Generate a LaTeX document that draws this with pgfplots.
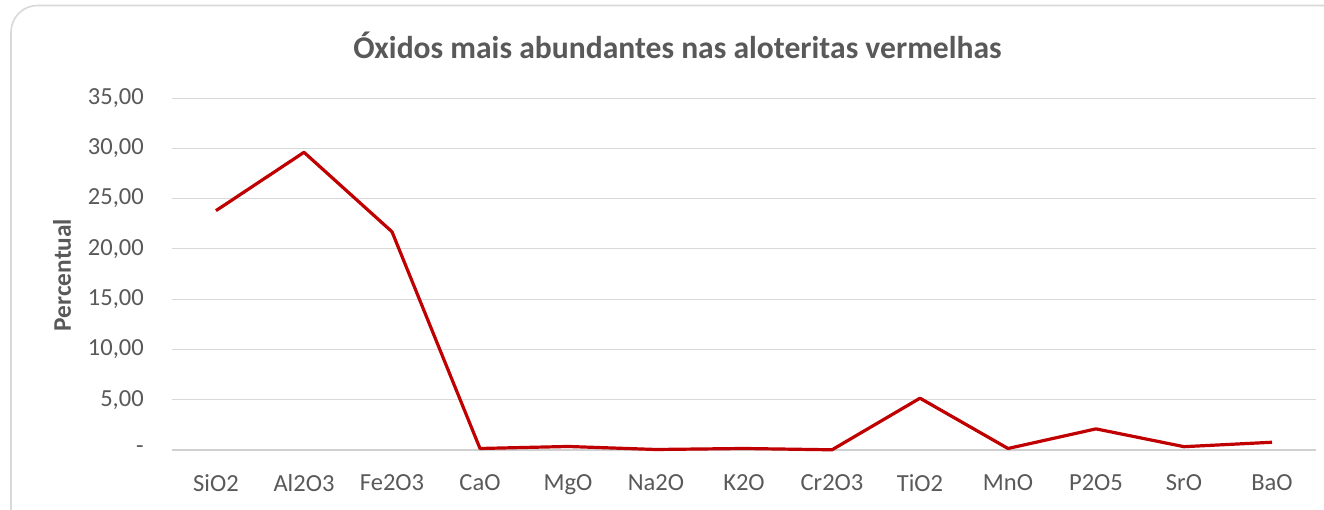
\documentclass[border=0pt]{standalone}
\usepackage{pgfplots}
\pgfplotsset{compat=1.18}
\usepackage{fontspec}
\setmainfont{Carlito}
\definecolor{txt}{HTML}{595959}
\definecolor{gridc}{HTML}{D9D9D9}
\definecolor{axl}{HTML}{D0D0D0}
\definecolor{brd}{HTML}{D9D9D9}
\definecolor{linec}{HTML}{C00000}
\begin{document}
\begin{tikzpicture}
\path[use as bounding box, fill=white] (0pt,0pt) rectangle (993pt,382.5pt);
\draw[brd, line width=1.2pt, rounded corners=20pt] (8.25pt,-30pt) rectangle (1020pt,378.4pt);
\node[font=\fontsize{23.7}{28}\selectfont\bfseries, text=txt] at (508.1pt,348.75pt) {Óxidos mais abundantes nas aloteritas vermelhas};
\node[font=\fontsize{19}{22}\selectfont\bfseries, text=txt, rotate=90] at (46.5pt,176.25pt) {Percentual};
\begin{axis}[
  at={(129pt,45pt)}, anchor=south west,
  scale only axis, width=858pt, height=264pt,
  xmin=-0.5, xmax=12.5, ymin=0, ymax=35,
  xtick={0,...,12},
  xticklabels={SiO2,Al2O3,Fe2O3,CaO,MgO,Na2O,K2O,Cr2O3,TiO2,MnO,P2O5,SrO,BaO},
  ytick={0,5,10,15,20,25,30,35},
  yticklabels={{-\hspace{14pt}},{5,00},{10,00},{15,00},{20,00},{25,00},{30,00},{35,00}},
  major tick length=0pt,
  axis line style={draw=none},
  xmajorgrids=false, ymajorgrids=true,
  major grid style={draw=gridc, line width=0.75pt},
  tick label style={font=\fontsize{18.4}{22}\selectfont, text=txt},
  yticklabel style={anchor=east, inner sep=0pt, xshift=-21pt},
  xticklabel style={anchor=north, inner sep=0pt, yshift=-18pt},
  clip=false,
]
\draw[axl, line width=1.1pt] (axis cs:-0.5,0) -- (axis cs:12.5,0);
\addplot[linec, line width=2.4pt, line join=round, mark=none] coordinates {
(0,23.8) (1,29.6) (2,21.7) (3,0.15) (4,0.35) (5,0.05) (6,0.15) (7,0.02) (8,5.15) (9,0.15) (10,2.1) (11,0.33) (12,0.77)
};
\end{axis}
\end{tikzpicture}
\end{document}
